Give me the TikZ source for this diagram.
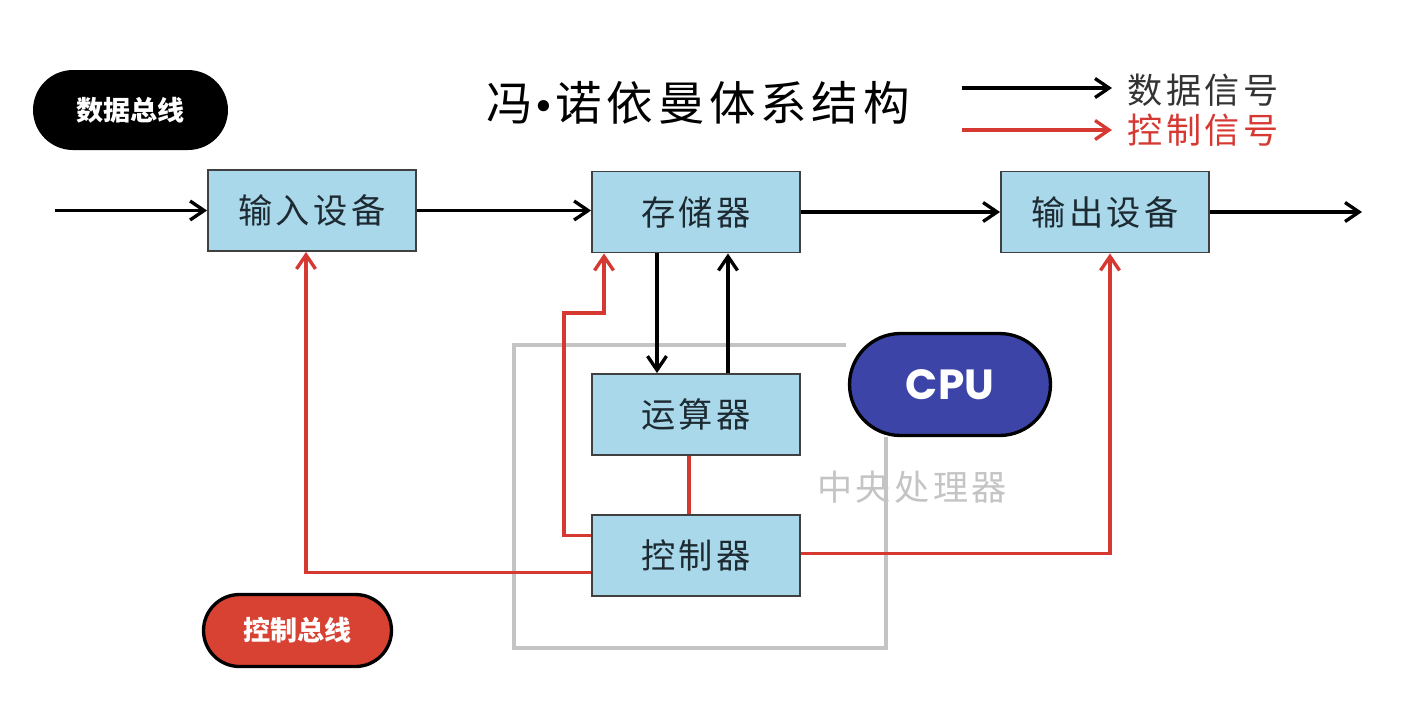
\documentclass[tikz,border=0pt]{standalone}
\usepackage{fontspec}
\setmainfont{Noto Sans CJK SC}
\newfontfamily\cjk{Noto Sans CJK SC}
\newfontfamily\cjksp[LetterSpace=10]{Noto Sans CJK SC}
\newfontfamily\dejavu{DejaVu Sans}
\newfontfamily\pop{Poppins}
\usetikzlibrary{arrows.meta,calc}
\definecolor{boxblue}{RGB}{168,216,234}
\definecolor{ctrlred}{RGB}{214,56,50}
\definecolor{cpublue}{RGB}{60,68,168}
\definecolor{busred}{RGB}{216,66,50}
\definecolor{frame}{RGB}{196,196,196}
\definecolor{boxtext}{RGB}{30,42,50}
\tikzset{
  unitbox/.style={draw=black!75, line width=1.1pt, fill=boxblue, minimum width=4.16cm, minimum height=1.62cm, inner sep=0pt,
    text=boxtext, font=\cjksp\fontsize{19.5pt}{19.5pt}\selectfont},
  data/.style={draw=black, line width=1.9pt, -{Straight Barb[length=0.28cm,width=0.38cm,line width=1.9pt]}},
  ctrl/.style={draw=ctrlred, line width=1.9pt, -{Straight Barb[length=0.28cm,width=0.38cm,line width=1.9pt]}},
  ctrlline/.style={draw=ctrlred, line width=1.9pt},
  pill/.style={rounded corners=#1, inner sep=0pt, text=white, font=\cjk\bfseries\fontsize{15.4pt}{15.4pt}\selectfont},
}
\begin{document}
\begin{tikzpicture}[x=0.02cm,y=-0.02cm]
\useasboundingbox (0,0) rectangle (1412,725);
% frame of CPU
\draw[frame, line width=1.9pt] (846,345) -| (514,648) -| (886,437);
% boxes
\node[unitbox] (in) at (312,210.5) {输入设备};
\node[unitbox] (mem) at (696,212) {存储器};
\node[unitbox] (out) at (1105,212) {输出设备};
\node[unitbox] (alu) at (696,414.5) {运算器};
\node[unitbox] (ctl) at (696,555.5) {控制器};
% pills
\node[pill=0.8cm, fill=black, minimum width=3.9cm, minimum height=1.6cm] (dbus) at (130.5,110) {数据总线};
\node[pill=0.72cm, fill=busred, draw=black, line width=1.9pt, minimum width=3.76cm, minimum height=1.44cm] (cbus) at (297.5,630.5) {控制总线};
\node[pill=1.02cm, fill=cpublue, draw=black, line width=1.9pt, minimum width=4.02cm, minimum height=2.04cm, font=\pop\bfseries\fontsize{24pt}{24pt}\selectfont] (cpu) at (950,384.5) {CPU};
\node[text=frame, font=\cjksp\fontsize{20pt}{20pt}\selectfont] (cpulabel) at (912,487) {中央处理器};
% title
\node[font=\cjksp\fontsize{26.5pt}{26.5pt}\selectfont] (title) at (698,103) {冯{\dejavu\fontsize{22pt}{22pt}\selectfont •}诺依曼体系结构};
% legend
\coordinate (l1a) at (962,88);
\coordinate (l1b) at (1112,88);
\coordinate (l2a) at (962,130);
\coordinate (l2b) at (1112,130);
\draw[data] (l1a) -- (l1b);
\draw[ctrl] (l2a) -- (l2b);
\node[anchor=west, inner sep=0pt, text=black!80, font=\cjksp\fontsize{20pt}{20pt}\selectfont] (lg1) at (1127,90) {数据信号};
\node[anchor=west, inner sep=0pt, text=ctrlred, font=\cjksp\fontsize{20pt}{20pt}\selectfont] (lg2) at (1127,130) {控制信号};
% data connectors
\coordinate (src) at (55,210.5);
\coordinate (dst) at (1362,212);
\draw[data] (src) -- (in.west);
\draw[data] (in.east) -- (in.east -| mem.west);
\draw[data] (mem.east) -- (out.west);
\draw[data] (out.east) -- (dst);
\draw[data] ([xshift=-0.78cm]mem.south) -- ([xshift=-0.78cm]alu.north);
\draw[data] ([xshift=0.64cm]alu.north) -- ([xshift=0.64cm]mem.south);
% control connectors
\draw[ctrlline] ([xshift=-0.14cm]alu.south) -- ([xshift=-0.14cm]ctl.north);
\draw[ctrl] ([yshift=0.4cm]ctl.west) -| (564,313) -| ([xshift=-1.84cm]mem.south);
\draw[ctrl] ([yshift=-0.34cm]ctl.west) -| ([xshift=-0.12cm]in.south);
\draw[ctrl] ([yshift=0.04cm]ctl.east) -| ([xshift=0.1cm]out.south);
\end{tikzpicture}
\end{document}
